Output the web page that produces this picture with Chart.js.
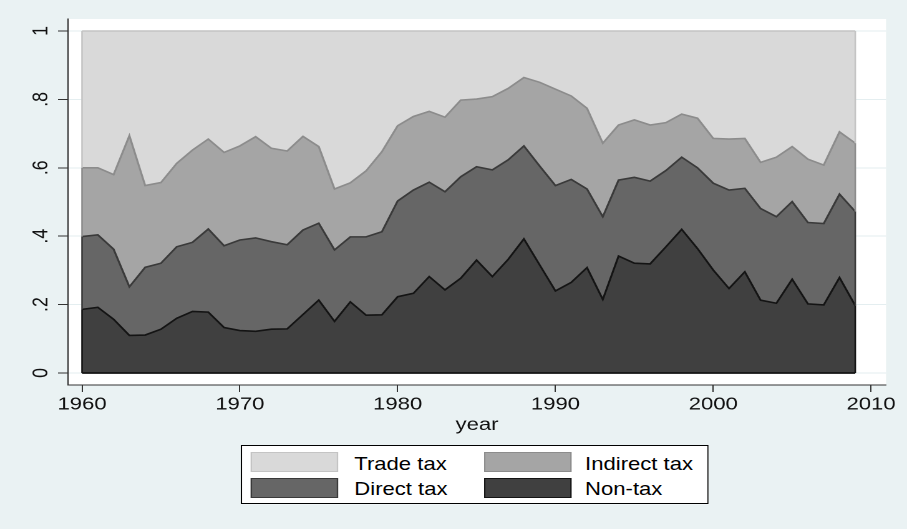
<!DOCTYPE html>
<html>
<head>
<meta charset="utf-8">
<script src="https://cdn.jsdelivr.net/npm/chart.js@4/dist/chart.umd.min.js"></script>
<style>
  html, body { margin: 0; padding: 0; background: #eaf2f3; overflow: hidden; }
  /* the reference is a Stata graph stretched sideways, so draw narrow and stretch */
  #wrap { position: absolute; left: 0; top: 0; width: 727px; height: 529px;
          transform: scaleX(1.2476); transform-origin: 0 0; }
  #legend { position: absolute; left: 193px; top: 445px; width: 373px; height: 57px;
            background: #fff; border: 1px solid #000;
            font-family: "Liberation Sans", Arial, sans-serif; font-size: 17.7px; color: #000; }
  .sw { position: absolute; width: 68px; height: 18px; border: 1px solid; }
  .lb { position: absolute; line-height: 20px; white-space: nowrap; }
</style>
</head>
<body>
<div id="wrap">
  <canvas id="myChart" width="727" height="529"></canvas>
  <div id="legend"></div>
</div>
<script>
const years = [1960,1961,1962,1963,1964,1965,1966,1967,1968,1969,
               1970,1971,1972,1973,1974,1975,1976,1977,1978,1979,
               1980,1981,1982,1983,1984,1985,1986,1987,1988,1989,
               1990,1991,1992,1993,1994,1995,1996,1997,1998,1999,
               2000,2001,2002,2003,2004,2005,2006,2007,2008,2009];

// shares of revenue, bottom to top
const nonTax = [.186,.192,.157,.110,.111,.128,.160,.180,.178,.133,
                .124,.122,.128,.129,.171,.213,.151,.208,.169,.170,
                .223,.233,.282,.243,.277,.330,.282,.332,.392,.316,
                .240,.265,.308,.215,.342,.321,.319,.369,.420,.364,
                .301,.247,.296,.213,.204,.274,.202,.199,.279,.197];
const directTax = [.213,.212,.205,.142,.198,.193,.209,.202,.243,.239,
                   .265,.273,.256,.246,.247,.225,.209,.190,.229,.243,
                   .280,.302,.276,.287,.297,.273,.312,.291,.272,.289,
                   .308,.301,.230,.242,.222,.251,.242,.223,.211,.236,
                   .254,.288,.244,.268,.253,.227,.238,.238,.244,.275];
const indirectTax = [.201,.196,.218,.442,.239,.236,.244,.270,.263,.273,
                     .275,.296,.273,.274,.274,.224,.178,.158,.193,.234,
                     .220,.215,.207,.218,.224,.198,.214,.209,.200,.245,
                     .282,.244,.236,.215,.161,.168,.164,.140,.126,.145,
                     .131,.149,.146,.135,.174,.161,.185,.171,.182,.200];
const tradeTax = [.400,.400,.420,.306,.452,.443,.387,.348,.316,.355,
                  .336,.309,.343,.351,.308,.338,.462,.444,.409,.353,
                  .277,.250,.235,.252,.202,.199,.192,.168,.136,.150,
                  .170,.190,.226,.328,.275,.260,.275,.268,.243,.255,
                  .314,.316,.314,.384,.369,.338,.375,.392,.295,.328];

const xTicks = [1960, 1970, 1980, 1990, 2000, 2010];
const yTicks = [0, .2, .4, .6, .8, 1];

const FONT = { family: '"Liberation Sans", Arial, sans-serif', size: 17.7 };

const series = [
  { label: 'Non-tax',      data: nonTax,      fill: '#404040', line: '#141414' },
  { label: 'Direct tax',   data: directTax,   fill: '#666666', line: '#3a3a3a' },
  { label: 'Indirect tax', data: indirectTax, fill: '#a5a5a5', line: '#8c8c8c' },
  { label: 'Trade tax',    data: tradeTax,    fill: '#d9d9d9', line: '#c4c4c4' }
];

const datasets = series.map((s, i) => ({
  label: s.label,
  data: years.map((yr, k) => ({ x: yr, y: s.data[k] })),
  backgroundColor: s.fill,
  borderColor: s.line,
  borderWidth: 1.6,
  pointRadius: 0,
  tension: 0,
  fill: i === 0 ? 'origin' : '-1'
}));

// white plot region
const plotBg = {
  id: 'plotBg',
  beforeDraw(chart) {
    const a = chart.chartArea, ctx = chart.ctx;
    ctx.save();
    ctx.fillStyle = '#ffffff';
    ctx.fillRect(a.left, a.top, a.right - a.left, a.bottom - a.top);
    ctx.restore();
  }
};

// Stata closes each area outline: side edges and the baseline
const edges = {
  id: 'edges',
  afterDatasetsDraw(chart) {
    const ctx = chart.ctx;
    const y0 = chart.scales.y.getPixelForValue(0);
    ctx.save();
    ctx.lineWidth = 1.3;
    for (let i = chart.data.datasets.length - 1; i >= 0; i--) {
      const pts = chart.getDatasetMeta(i).data;
      const prev = i > 0 ? chart.getDatasetMeta(i - 1).data : null;
      ctx.strokeStyle = chart.data.datasets[i].borderColor;
      [0, pts.length - 1].forEach(k => {
        const bot = prev ? prev[k].y : y0;
        ctx.beginPath();
        ctx.moveTo(pts[k].x, pts[k].y);
        ctx.lineTo(pts[k].x, bot);
        ctx.stroke();
      });
    }
    const m = chart.getDatasetMeta(0).data;
    ctx.strokeStyle = chart.data.datasets[0].borderColor;
    ctx.lineWidth = 1.8;
    ctx.beginPath();
    ctx.moveTo(m[0].x, y0);
    ctx.lineTo(m[m.length - 1].x, y0);
    ctx.stroke();
    ctx.restore();
  }
};

const ctx = document.getElementById('myChart');
const chart = new Chart(ctx, {
  type: 'line',
  data: { datasets: datasets },
  plugins: [plotBg, edges],
  options: {
    responsive: false,
    animation: false,
    devicePixelRatio: 2,
    layout: { padding: { left: 0, top: 19, right: 16.8, bottom: 89 } },
    plugins: { legend: { display: false }, tooltip: { enabled: false } },
    scales: {
      x: {
        type: 'linear',
        min: 1959.11,
        max: 2010.95,
        afterBuildTicks: (s) => { s.ticks = xTicks.map(v => ({ value: v })); },
        afterFit: (s) => { s.height = 55; },
        ticks: { autoSkip: false, maxRotation: 0, padding: 2, color: '#111', font: FONT,
                 callback: (v) => String(v) },
        grid: { drawOnChartArea: false, tickLength: 7, tickColor: '#333', tickWidth: 1 },
        border: { display: true, color: '#333', width: 1 },
        title: { display: true, text: 'year', color: '#111', font: FONT,
                 padding: { top: 0, bottom: 4.4 } }
      },
      y: {
        stacked: true,
        min: -0.0351,
        max: 1.0351,
        afterBuildTicks: (s) => { s.ticks = yTicks.map(v => ({ value: v })); },
        afterFit: (s) => { s.width = 54.5; },
        ticks: { autoSkip: false, minRotation: 90, maxRotation: 90, crossAlign: 'center',
                 padding: 6.2, color: '#111', font: FONT,
                 callback: (v) => (v === 0 || v === 1) ? String(v) : v.toFixed(1).replace(/^0/, '') },
        grid: { color: '#e4eef0', lineWidth: 1, tickLength: 8, tickColor: '#333', tickWidth: 1 },
        border: { display: true, color: '#333', width: 1 }
      }
    }
  }
});

// legend: two columns, Stata order
const legendOrder = ['Trade tax', 'Indirect tax', 'Direct tax', 'Non-tax'];
const swLeft = [7, 194], txLeft = [90, 275], swTop = [6, 32], txTop = [8, 32.5];
const lg = document.getElementById('legend');
legendOrder.forEach((name, i) => {
  const s = series.find(d => d.label === name);
  const col = i % 2, row = Math.floor(i / 2);
  const sw = document.createElement('div');
  sw.className = 'sw';
  sw.style.left = swLeft[col] + 'px';
  sw.style.top = swTop[row] + 'px';
  sw.style.background = s.fill;
  sw.style.borderColor = s.line;
  lg.appendChild(sw);
  const lb = document.createElement('div');
  lb.className = 'lb';
  lb.style.left = txLeft[col] + 'px';
  lb.style.top = txTop[row] + 'px';
  lb.textContent = name;
  lg.appendChild(lb);
});
</script>
</body>
</html>
